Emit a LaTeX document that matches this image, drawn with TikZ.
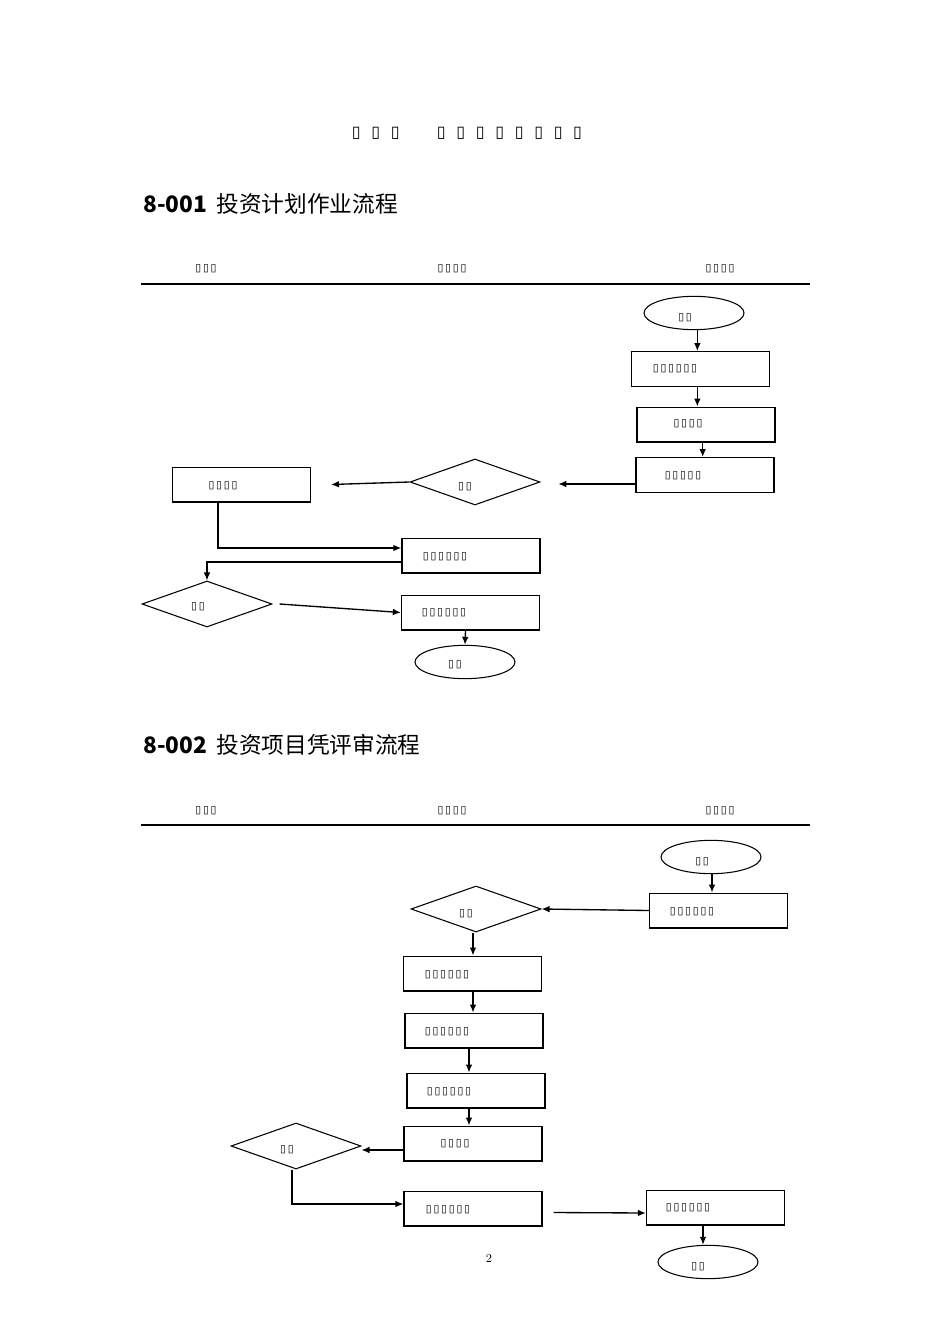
\documentclass[tikz,border=0pt]{standalone}
\usepackage{fontspec}
\newfontfamily\cjk{Noto Sans CJK SC}
\newfontfamily\dv{DejaVu Sans}
\usetikzlibrary{shapes.geometric,arrows.meta}
\newcommand{\tfs}[1]{{\dv\fontsize{8}{8}\selectfont #1}}
\begin{document}
\begin{tikzpicture}[x=0.75pt,y=-0.75pt,
  box/.style={draw,line width=1pt,minimum width=103.5pt,minimum height=26pt,inner sep=0},
  oval/.style={draw,ellipse,line width=0.8pt,minimum width=75pt,minimum height=25pt,inner sep=0},
  dia/.style={draw,diamond,line width=0.8pt,minimum width=97.5pt,minimum height=34.5pt,inner sep=0},
  lbl/.style={inner sep=0,font=\dv\fontsize{8}{8}\selectfont},
  arr/.style={-{Latex[length=6pt,width=5pt]},line width=1pt},
  ln/.style={line width=1pt},
  head/.style={inner sep=0,font=\cjk\fontsize{17}{17}\selectfont},
  rule/.style={line width=1.6pt}]
\useasboundingbox (0,0) rectangle (950,1344);
% title
\node[lbl,font=\dv\fontsize{12}{12}\selectfont] (ttl) at (467,133) {▯\hspace{8pt}▯\hspace{8pt}▯\hspace{28pt}▯\hspace{8pt}▯\hspace{8pt}▯\hspace{8pt}▯\hspace{8pt}▯\hspace{8pt}▯\hspace{8pt}▯\hspace{8pt}▯};
% ---- section 1
\node[head,anchor=west] (h1) at (143,204) {\textbf{8-001}\hspace{7pt}投资计划作业流程};
\node[lbl] (c1a) at (206,269) {▯\,▯\,▯};
\node[lbl] (c1b) at (452,269) {▯\,▯\,▯\,▯};
\node[lbl] (c1c) at (720,269) {▯\,▯\,▯\,▯};
\coordinate (r1a) at (141,284); \coordinate (r1b) at (810,284);
\draw[rule] (r1a) -- (r1b);

\node[oval] (s1) at (694,313) {};
\node[lbl] (s1t) at (685,318) {▯\,▯};
\node[box] (a1) at (700.5,369) {}; \node[lbl] (a1t) at (675,369) {▯\,▯\,▯\,▯\,▯\,▯};
\node[box] (a2) at (706,424.5) {}; \node[lbl] (a2t) at (688,424) {▯\,▯\,▯\,▯};
\node[box] (a3) at (705,475) {}; \node[lbl] (a3t) at (683,476) {▯\,▯\,▯\,▯\,▯};
\node[dia] (d1) at (475,482) {}; \node[lbl] (d1t) at (465,487) {▯\,▯};
\node[box] (a4) at (241.5,484.5) {}; \node[lbl] (a4t) at (223,486) {▯\,▯\,▯\,▯};
\node[box] (a5) at (471,555.5) {}; \node[lbl] (a5t) at (445,557) {▯\,▯\,▯\,▯\,▯\,▯};
\node[dia] (d2) at (207,604) {}; \node[lbl] (d2t) at (198,607) {▯\,▯};
\node[box] (a6) at (470.5,612.5) {}; \node[lbl] (a6t) at (444,613) {▯\,▯\,▯\,▯\,▯\,▯};
\node[oval] (e1) at (465,662) {}; \node[lbl] (e1t) at (455,665) {▯\,▯};

\draw[arr] (s1.south -| a1t.east) -- (a1.north -| a1t.east);
\draw[arr] (a1.south -| a1t.east) -- (a2.north -| a1t.east);
\draw[arr] (a2.south -| a2t.east) -- (a3.north -| a2t.east);
\draw[arr] (a3.west |- 0,484) -- ++(-77,0);
\draw[arr] (d1.west) -- (a4.east -| 331,0);
\coordinate (k1) at (218,548);
\draw[arr] (a4.south -| k1) -- (k1) -- (a5.west |- k1);
\coordinate (k2) at (207,562);
\draw[arr] (a5.west |- k2) -- (k2) -- (d2.north);
\draw[arr] (d2.east) ++(7,0) -- (a6.west);
\draw[arr] (a6.south) ++(-5,0) -- (e1.north);

% ---- section 2
\node[head,anchor=west] (h2) at (143,745) {\textbf{8-002}\hspace{7pt}投资项目凭评审流程};
\node[lbl] (c2a) at (206,811) {▯\,▯\,▯};
\node[lbl] (c2b) at (452,811) {▯\,▯\,▯\,▯};
\node[lbl] (c2c) at (720,811) {▯\,▯\,▯\,▯};
\coordinate (r2a) at (141,825); \coordinate (r2b) at (810,825);
\draw[rule] (r2a) -- (r2b);

\node[oval] (s2) at (711,857) {}; \node[lbl] (s2t) at (702,862) {▯\,▯};
\node[box] (b1) at (718.5,910.5) {}; \node[lbl] (b1t) at (692,912) {▯\,▯\,▯\,▯\,▯\,▯};
\node[dia] (d3) at (476,909) {}; \node[lbl] (d3t) at (466,914) {▯\,▯};
\node[box] (b2) at (472.5,973.5) {}; \node[lbl] (b2t) at (447,975) {▯\,▯\,▯\,▯\,▯\,▯};
\node[box] (b3) at (474,1030.5) {}; \node[lbl] (b3t) at (447,1032) {▯\,▯\,▯\,▯\,▯\,▯};
\node[box] (b4) at (476,1090.5) {}; \node[lbl] (b4t) at (449,1092) {▯\,▯\,▯\,▯\,▯\,▯};
\node[box] (b5) at (473,1143.5) {}; \node[lbl] (b5t) at (455,1144) {▯\,▯\,▯\,▯};
\node[dia] (d4) at (296,1146) {}; \node[lbl] (d4t) at (287,1150) {▯\,▯};
\node[box] (b6) at (473,1208.5) {}; \node[lbl] (b6t) at (448,1210) {▯\,▯\,▯\,▯\,▯\,▯};
\node[box] (b7) at (715.5,1207.5) {}; \node[lbl] (b7t) at (688,1208) {▯\,▯\,▯\,▯\,▯\,▯};
\node[oval] (e2) at (708,1262) {}; \node[lbl] (e2t) at (698,1267) {▯\,▯};
\node[inner sep=0,font=\fontsize{9}{9}\selectfont] (pg) at (489,1258) {2};

\draw[arr] (s2.south -| 712,0) -- (b1.north -| 712,0);
\draw[arr] (b1.west) -- (d3.east);
\draw[arr] (d3.south -| 473,0) -- (b2.north -| 473,0);
\draw[arr] (b2.south -| 473,0) -- (b3.north -| 473,0);
\draw[arr] (b3.south -| 469,0) -- (b4.north -| 469,0);
\draw[arr] (b4.south -| 469,0) -- (b5.north -| 469,0);
\draw[arr] (b5.west |- 0,1150) -- (d4.east |- 0,1150);
\coordinate (k3) at (292,1204);
\draw[arr] (d4.south -| k3) -- (k3) -- (b6.west |- k3);
\draw[arr] (b6.east) ++(11,4) -- (b7.west |- 0,1213);
\draw[arr] (b7.south -| 703,0) -- (e2.north -| 703,0);
\end{tikzpicture}
\end{document}
